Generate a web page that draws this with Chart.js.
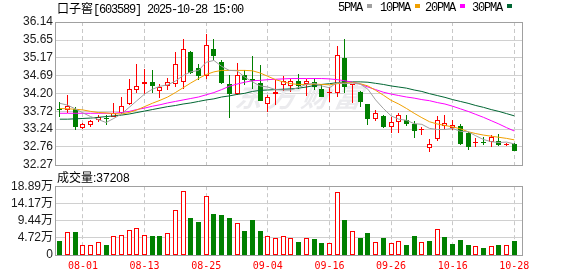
<!DOCTYPE html>
<html>
<head>
<meta charset="utf-8">
<script src="https://cdn.jsdelivr.net/npm/chart.js@4/dist/chart.umd.min.js"></script>
<style>
  html, body { margin: 0; padding: 0; background: #fff; }
  #wrap { position: relative; width: 578px; height: 276px; overflow: hidden; }
  canvas { position: absolute; left: 0; }
  #priceChart { top: 0; }
  #volChart { top: 176px; }
  .txt { position: absolute; white-space: nowrap; color: #000; font-size: 12px; line-height: 14px; }
  .mono { font-family: "Liberation Mono", monospace; letter-spacing: -1.2px; }
  .cjk { font-family: "Noto Sans CJK SC", sans-serif; }
  .sans { font-family: "Liberation Sans", sans-serif; }
  #title { left: 57px; top: 1px; }
  #volTitle { left: 57px; top: 170px; }
  .leg { position: absolute; top: 1px; }
  .leg i { display: inline-block; width: 5px; height: 4px; margin-left: 5px; vertical-align: 3px; }
</style>
</head>
<body>
<div id="wrap">
  <canvas id="priceChart" width="578" height="176"></canvas>
  <canvas id="volChart" width="578" height="100"></canvas>
  <div id="title" class="txt"><span class="cjk">口子窖</span><span class="mono">[603589] 2025-10-28 15:00</span></div>
  <div id="legend"></div>
  <div id="volTitle" class="txt"><span class="cjk">成交量</span><span class="sans" id="volNum"></span></div>
</div>
<script>
// trading days shown (07-29 .. 10-28)
const dates = [
  '07-29','07-30','07-31','08-01','08-04','08-05','08-06','08-07','08-08','08-11',
  '08-12','08-13','08-14','08-15','08-18','08-19','08-20','08-21','08-22','08-25',
  '08-26','08-27','08-28','08-29','09-01','09-02','09-03','09-04','09-05','09-08',
  '09-09','09-10','09-11','09-12','09-15','09-16','09-17','09-18','09-19','09-22',
  '09-23','09-24','09-25','09-26','09-29','09-30','10-09','10-10','10-13','10-14',
  '10-15','10-16','10-17','10-20','10-21','10-22','10-23','10-24','10-27','10-28'
];
const tickDates = ['08-01','08-13','08-25','09-04','09-16','09-26','10-16','10-28'];

const openP = [
  33.79, 33.76, 33.79, 33.28, 33.36, 33.49, 33.55, 33.57, 33.69, 33.92,
  34.31, 34.45, 34.51, 34.26, 34.42, 34.46, 34.52, 35.32, 34.90, 34.68,
  35.40, 35.07, 34.46, 34.20, 34.70, 34.59, 34.49, 33.92, 34.18, 34.43,
  34.41, 34.54, 34.46, 34.51, 34.32, 34.22, 34.23, 35.17, 34.43, 34.25,
  33.92, 33.51, 33.60, 33.29, 33.43, 33.49, 33.38, 33.21, 32.74, 32.97,
  33.33, 33.26, 33.33, 33.13, 32.87, 32.90, 32.88, 32.91, 32.82, 32.84
];
const highP = [
  33.98, 34.16, 33.83, 33.42, 33.49, 33.61, 33.62, 33.95, 34.11, 34.60,
  34.99, 34.87, 34.83, 34.45, 34.63, 35.34, 35.67, 35.35, 34.99, 35.82,
  35.69, 35.11, 34.70, 35.03, 34.83, 35.21, 34.97, 34.16, 34.58, 34.67,
  34.61, 34.72, 34.61, 34.63, 34.43, 34.38, 35.48, 35.68, 34.47, 34.28,
  33.92, 33.76, 33.62, 33.56, 33.69, 33.61, 33.47, 33.31, 32.98, 33.60,
  33.62, 33.49, 33.38, 33.15, 33.00, 33.02, 33.08, 33.10, 32.86, 32.86
];
const lowP = [
  33.56, 33.69, 33.22, 33.25, 33.29, 33.43, 33.36, 33.56, 33.64, 33.89,
  34.22, 34.19, 34.22, 34.08, 34.29, 34.38, 34.32, 34.72, 34.58, 34.61,
  35.10, 34.47, 33.53, 34.16, 34.43, 34.34, 34.00, 33.71, 33.89, 34.28,
  34.25, 34.34, 34.13, 34.31, 34.10, 33.98, 34.10, 34.22, 33.96, 33.85,
  33.35, 33.47, 33.27, 33.13, 33.13, 33.33, 33.01, 33.08, 32.61, 32.91,
  33.22, 33.22, 32.81, 32.68, 32.75, 32.81, 32.75, 32.79, 32.79, 32.66
];
const closeP = [
  33.77, 33.86, 33.29, 33.37, 33.45, 33.56, 33.52, 33.69, 33.86, 34.34,
  34.40, 34.51, 34.41, 34.39, 34.51, 35.01, 35.41, 34.76, 34.68, 35.52,
  35.23, 34.49, 34.19, 34.70, 34.56, 34.54, 34.01, 34.10, 34.25, 34.53,
  34.55, 34.41, 34.55, 34.38, 34.12, 34.24, 35.24, 34.38, 34.46, 33.98,
  33.51, 33.67, 33.29, 33.43, 33.61, 33.38, 33.20, 33.23, 32.83, 33.49,
  33.40, 33.36, 32.84, 32.77, 32.89, 32.87, 33.02, 32.82, 32.84, 32.66
];
// volume in 万 shares
const volume = [
  3.92, 6.30, 6.39, 2.74, 2.74, 3.56, 2.74, 5.11, 5.38, 6.75,
  7.30, 5.38, 5.20, 5.20, 5.93, 12.32, 17.52, 10.18, 9.17, 16.24,
  11.28, 11.01, 10.18, 8.81, 6.70, 9.63, 6.70, 5.14, 4.59, 5.14,
  4.59, 3.58, 4.59, 4.31, 3.30, 3.21, 17.25, 9.63, 6.70, 4.77,
  6.06, 3.58, 4.77, 3.30, 3.85, 2.75, 5.23, 3.58, 3.85, 7.06,
  4.95, 3.03, 4.13, 2.75, 2.39, 1.93, 2.39, 2.75, 2.66, 3.72
];
const ma5 = [
  33.94, 33.89, 33.79, 33.68, 33.58, 33.50, 33.42, 33.53, 33.65, 33.83,
  34.01, 34.19, 34.32, 34.40, 34.44, 34.54, 34.69, 34.79, 34.83, 35.05,
  35.10, 34.94, 34.83, 34.82, 34.65, 34.52, 34.41, 34.38, 34.31, 34.30,
  34.30, 34.37, 34.45, 34.48, 34.41, 34.36, 34.50, 34.47, 34.49, 34.46,
  34.32, 34.03, 33.80, 33.60, 33.51, 33.48, 33.39, 33.37, 33.26, 33.23,
  33.23, 33.26, 33.18, 33.17, 33.06, 32.96, 32.90, 32.88, 32.89, 32.84
];
const ma10 = [
  33.80, 33.79, 33.78, 33.76, 33.72, 33.69, 33.68, 33.66, 33.65, 33.69,
  33.76, 33.85, 33.94, 34.02, 34.11, 34.23, 34.36, 34.49, 34.61, 34.72,
  34.79, 34.83, 34.83, 34.83, 34.83, 34.82, 34.76, 34.67, 34.58, 34.52,
  34.47, 34.45, 34.45, 34.46, 34.45, 34.44, 34.47, 34.49, 34.50, 34.47,
  34.41, 34.29, 34.16, 34.02, 33.92, 33.80, 33.67, 33.55, 33.44, 33.38,
  33.34, 33.30, 33.25, 33.17, 33.12, 33.08, 33.05, 33.02, 32.99, 32.95
];
const ma20 = [
  33.67, 33.67, 33.67, 33.67, 33.67, 33.67, 33.67, 33.67, 33.69, 33.72,
  33.77, 33.81, 33.86, 33.90, 33.95, 33.99, 34.03, 34.07, 34.11, 34.17,
  34.23, 34.31, 34.40, 34.46, 34.51, 34.55, 34.56, 34.58, 34.59, 34.60,
  34.61, 34.61, 34.61, 34.61, 34.61, 34.60, 34.58, 34.55, 34.51, 34.46,
  34.38, 34.31, 34.24, 34.19, 34.15, 34.11, 34.08, 34.04, 34.01, 33.96,
  33.92, 33.86, 33.79, 33.72, 33.64, 33.56, 33.47, 33.38, 33.28, 33.19
];
const ma30 = [
  33.51, 33.51, 33.52, 33.53, 33.54, 33.56, 33.58, 33.60, 33.62, 33.65,
  33.69, 33.73, 33.77, 33.81, 33.85, 33.88, 33.92, 33.95, 33.99, 34.03,
  34.06, 34.11, 34.14, 34.18, 34.21, 34.26, 34.29, 34.30, 34.31, 34.32,
  34.33, 34.35, 34.38, 34.42, 34.45, 34.47, 34.50, 34.52, 34.52, 34.52,
  34.51, 34.48, 34.45, 34.41, 34.38, 34.35, 34.30, 34.26, 34.20, 34.15,
  34.10, 34.04, 33.99, 33.94, 33.88, 33.83, 33.77, 33.72, 33.66, 33.60
];
const priceTicks = [32.27, 32.76, 33.24, 33.72, 34.20, 34.69, 35.17, 35.65, 36.14];
const volTicks = [0, 4.72, 9.44, 14.17, 18.89];
const volTickLabels = ['0', '4.72万', '9.44万', '14.17万', '18.89万'];
const lastVolume = 37208;
const maNames = ['5PMA', '10PMA', '20PMA', '30PMA'];

const UP = '#ff0000';
const DOWN = '#008000';
const MA_COLORS = ['#a0a0a0', '#f0a000', '#ff00ff', '#006633'];
const GRID = '#d0d0d0';
const FRAME = '#a0a0a0';
const LABEL = '#1a1a1a';
const SANS = '"Liberation Sans", "Noto Sans CJK SC", sans-serif';

// header texts
document.getElementById('volNum').textContent = ':' + lastVolume;
const legLefts = [338, 380, 425, 472];
document.getElementById('legend').innerHTML = maNames.map((n, k) =>
  `<span class="leg txt mono" style="left:${legLefts[k]}px">${n}<i style="background:${MA_COLORS[k]}"></i></span>`
).join('');

const isUp = closeP.map((c, i) => c >= openP[i]);
const volUp = closeP.map((c, i) => i === 0 ? c >= openP[0] : c >= closeP[i - 1]);

const xy = (arr) => arr.map((v, i) => ({ x: i, y: v }));

// keep 1px / 5px bars on whole pixels so they look crisp
const snapBars = {
  id: 'snapBars',
  afterDatasetsUpdate(chart) {
    chart.getSortedVisibleDatasetMetas().forEach(meta => {
      if (meta.type !== 'bar') return;
      meta.data.forEach(el => {
        el.x = Math.floor(el.x) + 0.5;
        const top = Math.round(el.y);
        let base = Math.round(el.base);
        if (top === base) base = top + 1;
        el.y = top;
        el.base = base;
      });
    });
  }
};

const frame = {
  id: 'frame',
  afterDraw(chart) {
    const { ctx, chartArea: a } = chart;
    const l = Math.round(a.left) - 0.5, t = Math.round(a.top) + 0.5;
    const r = Math.round(a.right) + 0.5, b = Math.round(a.bottom) + 0.5;
    ctx.save();
    ctx.strokeStyle = FRAME;
    ctx.lineWidth = 1;
    ctx.strokeRect(l, t, r - l, b - t);
    ctx.restore();
  }
};

const watermark = {
  id: 'watermark',
  beforeDatasetsDraw(chart) {
    const ctx = chart.ctx;
    ctx.save();
    ctx.fillStyle = '#ebebee';
    ctx.font = 'italic bold 27px "Noto Sans CJK SC"';
    ctx.textBaseline = 'middle';
    ctx.translate(236, 97);
    ctx.transform(1, 0, -0.2, 1, 0, 0);
    ctx.letterSpacing = '6px';
    ctx.fillText('东方财富', 0, 0);
    ctx.restore();
  }
};

function xScale(showLabels) {
  return {
    type: 'linear',
    min: -0.5,
    max: 60,
    offset: false,
    afterBuildTicks: s => { s.ticks = tickDates.map(d => ({ value: dates.indexOf(d) })); },
    afterFit: s => { if (showLabels) s.height = 21; },
    grid: { color: '#c8c8c8', drawTicks: false, offset: false },
    border: { display: false, dash: [4, 3] },
    ticks: {
      display: showLabels,
      padding: 5,
      autoSkip: false,
      maxRotation: 0,
      color: UP,
      font: { family: '"DejaVu Sans Mono", monospace', size: 10, lineHeight: 1.2 },
      callback: v => dates[v]
    }
  };
}

function yScale(ticksArr, fmt) {
  return {
    type: 'linear',
    min: ticksArr[0],
    max: ticksArr[ticksArr.length - 1],
    afterBuildTicks: s => { s.ticks = ticksArr.map(v => ({ value: v })); },
    afterFit: s => { s.width = 56; },
    grid: { color: GRID, drawTicks: false },
    border: { display: false },
    ticks: { padding: 3, autoSkip: false, color: LABEL, font: { family: SANS, size: 12 }, callback: fmt }
  };
}

const commonOpts = {
  responsive: false,
  animation: false,
  events: [],
  plugins: { legend: { display: false }, tooltip: { enabled: false } }
};

new Chart(document.getElementById('priceChart'), {
  type: 'bar',
  data: {
    datasets: [
      ...[ma5, ma10, ma20, ma30].map((m, k) => ({
        type: 'line',
        label: maNames[k],
        data: xy(m),
        borderColor: MA_COLORS[k],
        borderWidth: 1,
        pointRadius: 0,
        tension: 0,
        order: 0
      })),
      {
        label: 'body',
        data: openP.map((o, i) => ({ x: i, y: [o, closeP[i]] })),
        backgroundColor: isUp.map(u => u ? '#ffffff' : DOWN),
        borderColor: isUp.map(u => u ? UP : DOWN),
        borderWidth: 1,
        borderSkipped: false,
        barThickness: 5,
        minBarLength: 1,
        inflateAmount: 0,
        grouped: false,
        order: 1
      },
      {
        label: 'wick',
        data: lowP.map((l, i) => ({ x: i, y: [l, highP[i]] })),
        backgroundColor: isUp.map(u => u ? UP : DOWN),
        borderWidth: 0,
        barThickness: 1,
        minBarLength: 1,
        inflateAmount: 0,
        grouped: false,
        order: 2
      }
    ]
  },
  options: {
    ...commonOpts,
    layout: { padding: { top: 22, right: 56, bottom: 11, left: 0 } },
    scales: {
      x: xScale(false),
      y: yScale(priceTicks, v => v.toFixed(2))
    }
  },
  plugins: [snapBars, watermark, frame]
});

new Chart(document.getElementById('volChart'), {
  type: 'bar',
  data: {
    datasets: [{
      label: 'volume',
      data: xy(volume),
      backgroundColor: volUp.map(u => u ? '#ffffff' : DOWN),
      borderColor: volUp.map(u => u ? UP : DOWN),
      borderWidth: 1,
      borderSkipped: false,
      barThickness: 5,
      inflateAmount: 0,
      grouped: false
    }]
  },
  options: {
    ...commonOpts,
    layout: { padding: { top: 10, right: 56, bottom: 0, left: 0 } },
    scales: {
      x: xScale(true),
      y: yScale(volTicks, (v, i) => volTickLabels[i])
    }
  },
  plugins: [snapBars, frame]
});
</script>
</body>
</html>
